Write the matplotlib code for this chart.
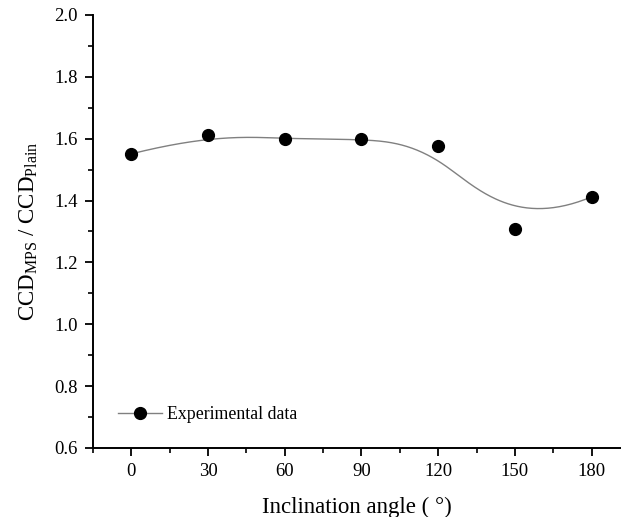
import numpy as np
import matplotlib
matplotlib.use("Agg")
from matplotlib import pyplot as plt
from matplotlib.lines import Line2D

# data
angle = [0, 30, 60, 90, 120, 150, 180]
ratio = [1.551, 1.613, 1.598, 1.600, 1.578, 1.308, 1.412]

plt.rcParams["font.family"] = ["Liberation Serif", "DejaVu Serif"]
plt.rcParams["mathtext.fontset"] = "custom"
plt.rcParams["mathtext.rm"] = "Liberation Serif"
plt.rcParams["mathtext.it"] = "Liberation Serif:italic"


def bspline(px, py, n=400, k=3):
    # clamped uniform B-spline using the points as control points (Origin style)
    px = np.asarray(px, float)
    py = np.asarray(py, float)
    m = len(px)
    inner = np.arange(1, m - k)
    knots = np.concatenate([np.zeros(k + 1), inner, np.full(k + 1, m - k)])
    t = np.linspace(0, m - k, n)
    t[-1] -= 1e-9
    # Cox-de Boor recursion
    N = np.zeros((n, len(knots) - 1))
    for i in range(len(knots) - 1):
        N[:, i] = (t >= knots[i]) & (t < knots[i + 1])
    for d in range(1, k + 1):
        Nn = np.zeros((n, len(knots) - 1 - d))
        for i in range(len(knots) - 1 - d):
            a = knots[i + d] - knots[i]
            b = knots[i + d + 1] - knots[i + 1]
            left = (t - knots[i]) / a * N[:, i] if a > 0 else 0
            right = (knots[i + d + 1] - t) / b * N[:, i + 1] if b > 0 else 0
            Nn[:, i] = left + right
        N = Nn
    return N @ px, N @ py


fig = plt.figure(figsize=(6.21, 5.17), dpi=100)
ax = fig.add_axes([0.1498, 0.1335, 0.8502, 0.8375])

sx, sy = bspline(angle, ratio)
ax.plot(sx, sy, color="#808080", lw=1.0, zorder=2)
ax.plot(angle, ratio, "o", color="black", ms=8.5, zorder=3)

ax.set_xlim(-15, 191.5)
ax.set_ylim(0.6, 2.0)
ax.set_xticks([0, 30, 60, 90, 120, 150, 180])
ax.set_xticks(np.arange(-15, 191, 15), minor=True)
ax.set_yticks(np.arange(0.6, 2.01, 0.2))
ax.set_yticks(np.arange(0.7, 2.0, 0.2), minor=True)
ax.yaxis.set_major_formatter(matplotlib.ticker.FormatStrFormatter("%.1f"))

for s in ["top", "right"]:
    ax.spines[s].set_visible(False)
for s in ["left", "bottom"]:
    ax.spines[s].set_linewidth(1.4)
ax.tick_params(which="major", direction="out", length=6, width=1.3, labelsize=13.5, pad=5)
ax.tick_params(which="minor", direction="out", length=3.5, width=1.2)

ax.set_xlabel("Inclination angle ( °)", fontsize=16.5, labelpad=12)
ax.set_ylabel(r"CCD$_{\mathrm{MPS}}$ / CCD$_{\mathrm{Plain}}$", fontsize=16.5, labelpad=10)

h = Line2D([], [], color="#808080", lw=1.0, marker="o", mfc="black", mec="black", ms=8.5)
ax.legend([h], ["Experimental data"], loc="center left", bbox_to_anchor=(0.047, 0.077),
          frameon=False, fontsize=12.8, handlelength=2.5, handletextpad=0.25,
          borderpad=0, borderaxespad=0)

fig.savefig("out.png", dpi=100)
